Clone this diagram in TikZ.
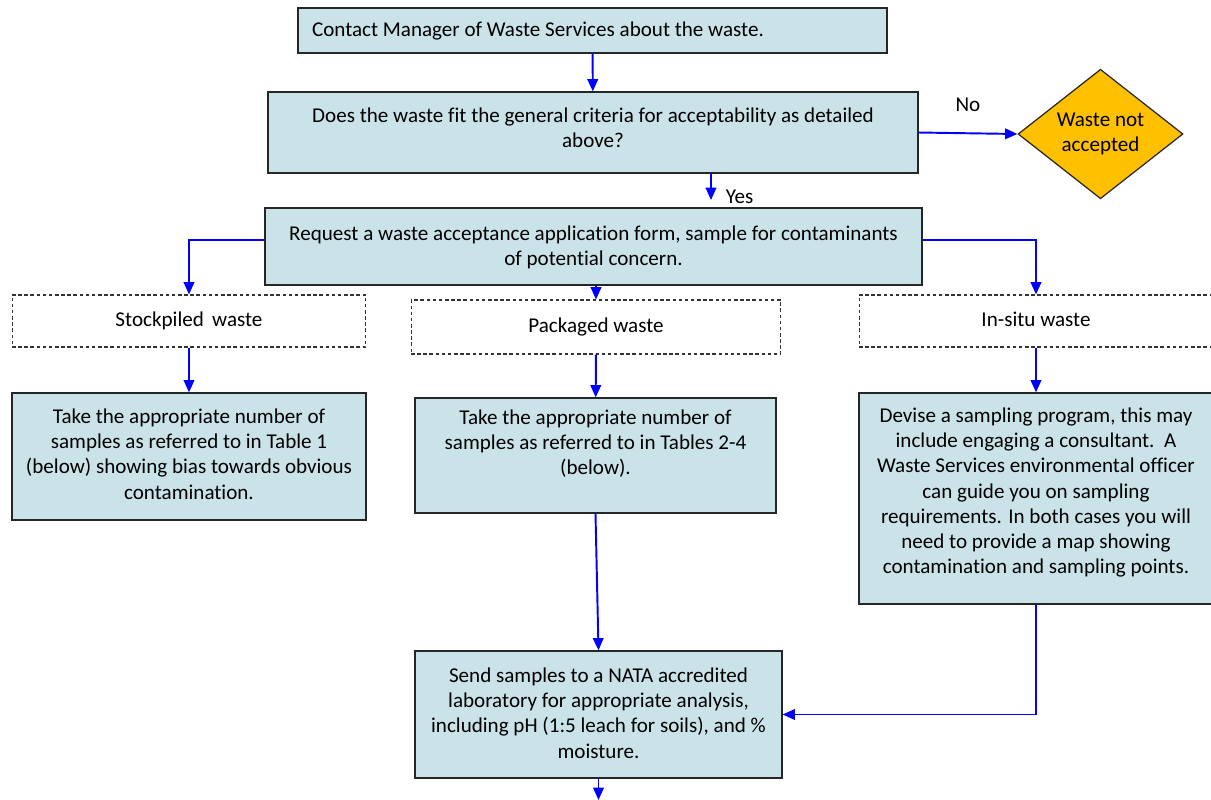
\documentclass[tikz,border=0pt]{standalone}
\usepackage{fontspec}
\setmainfont[Ligatures=NoCommon]{Carlito}
\usetikzlibrary{shapes.geometric,arrows.meta}

\definecolor{boxfill}{RGB}{202,227,232}
\definecolor{gold}{RGB}{255,192,0}
\definecolor{flowblue}{RGB}{0,0,255}

% text block pinned to the top of a box: width, height, top gap, lines
\newcommand{\boxtext}[4]{\parbox[c][#2][t]{#1}{\centering\vspace*{#3}#4}}

\tikzset{
  procbox/.style={draw=black!85, fill=boxfill, line width=0.7pt, inner sep=0pt},
  kindbox/.style={draw=black!80, dashed, dash pattern=on 2pt off 1.5pt, line width=0.6pt,
    inner sep=0pt},
  flow/.style={draw=flowblue, line width=1.1pt, -{Triangle[width=6pt,length=7pt]}},
}

\begin{document}
\begin{tikzpicture}[x=0.02cm, y=-0.02cm, font=\fontsize{12}{14.3}\selectfont]
\useasboundingbox (0,0) rectangle (1211,799);

\node[procbox, minimum width=11.78cm, minimum height=0.9cm] (contact) at (592.5,30.5)
  {\parbox{11.22cm}{\raggedright Contact Manager of Waste Services about the waste.}};

\node[procbox] (check) at (593,132.5)
  {\boxtext{13cm}{1.62cm}{0.32cm}{Does the waste fit the general criteria for acceptability as detailed\\ above?}};

\node[draw=black!85, fill=gold, diamond, line width=0.7pt, inner sep=0pt,
  minimum width=3.3cm, minimum height=2.44cm, align=center] (notacc) at (1100.5,134)
  {Waste not\\ accepted};

\node[procbox] (request) at (593.5,246.5)
  {\boxtext{13.14cm}{1.54cm}{0.36cm}{Request a waste acceptance application form, sample for contaminants\\ of potential concern.}};

% kinds of waste
\node[kindbox, minimum width=7.08cm, minimum height=1.04cm] (stockdash) at (189,321) {\raisebox{2pt}{Stockpiled\, waste}};
\node[kindbox, minimum width=7.40cm, minimum height=1.08cm] (packdash) at (596,327) {Packaged waste};
\node[kindbox, minimum width=7.08cm, minimum height=1.04cm] (insitudash) at (1036,321) {\raisebox{2pt}{In-situ waste}};

\node[procbox] (stocktake) at (189,456.5)
  {\boxtext{7.08cm}{2.54cm}{0.32cm}{Take the appropriate number of\\ samples as referred to in Table 1\\ (below) showing bias towards obvious\\ contamination.}};

\node[procbox] (packtake) at (595.5,455.5)
  {\boxtext{7.22cm}{2.30cm}{0.24cm}{Take the appropriate number of\\ samples as referred to in Tables 2-4\\ (below).}};

\node[procbox] (insitubox) at (1036,498.5)
  {\boxtext{7.08cm}{4.22cm}{0.3cm}{Devise a sampling program, this may\\ include engaging a consultant.\ \ A\\ Waste Services environmental officer\\ can guide you on sampling\\ requirements. In both cases you will\\ need to provide a map showing\\ contamination and sampling points.}};

\node[procbox] (send) at (598.5,714.5)
  {\boxtext{7.34cm}{2.54cm}{0.34cm}{Send samples to a NATA accredited\\ laboratory for appropriate analysis,\\ including pH (1:5 leach for soils), and \%\\ moisture.}};

\coordinate (yesend) at (711,200);
\coordinate (bottomend) at (598.5,800);

% connectors
\draw[flow] (contact) -- (check);
\draw[flow] (check.east) -- node[midway, above=0.3cm, text=black] {No} (notacc.west);
\draw[flow] (check.south -| yesend) -- node[pos=0.88, right=0.16cm, text=black] {Yes} (yesend);
\draw[flow] ([yshift=0.13cm]request.west) -| (stockdash.north);
\draw[flow] ([yshift=0.13cm]request.east) -| (insitudash.north);
\draw[flow] (request.south -| packdash.north) -- (packdash.north);
\draw[flow] (stockdash) -- (stocktake);
\draw[flow] (packdash) -- (packtake);
\draw[flow] (insitudash) -- (insitubox);
\draw[flow] (packtake.south) -- (send.north);
\draw[flow] (insitubox.south) |- (send.east);
\draw[flow] (send.south) -- (bottomend);
\end{tikzpicture}
\end{document}
